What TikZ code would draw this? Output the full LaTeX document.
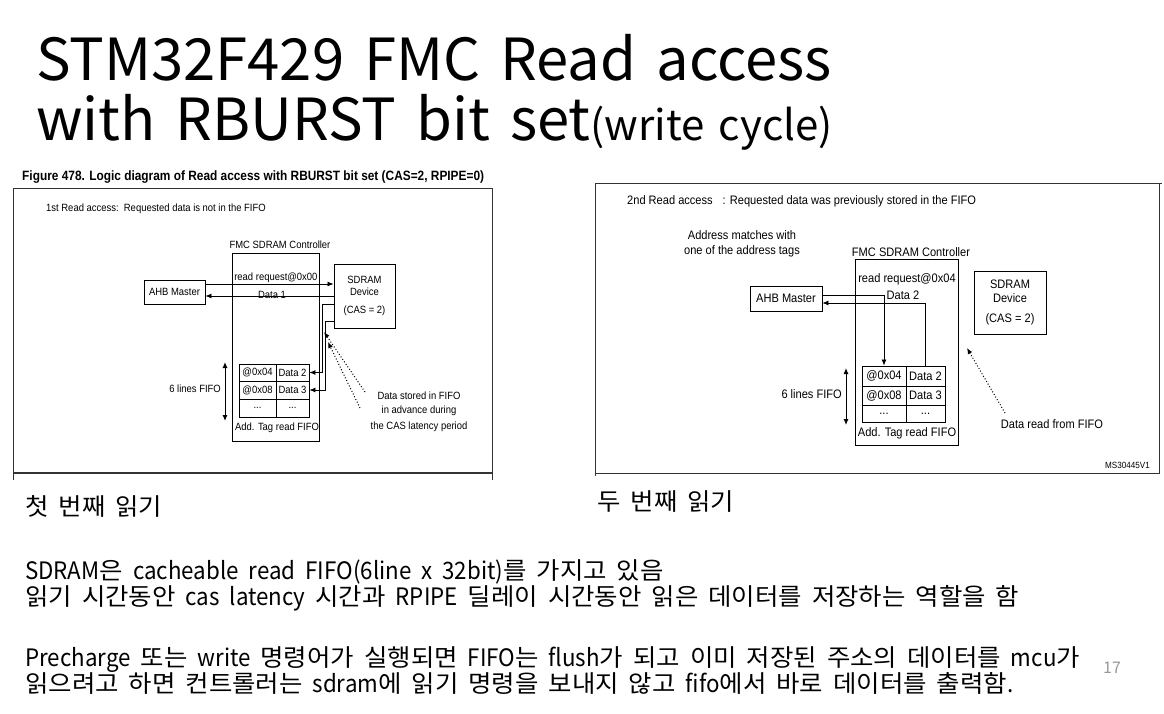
\documentclass[tikz,border=0pt]{standalone}
\usepackage{fontspec}
\setmainfont{Noto Sans CJK KR}
\newfontfamily\kofont[FakeStretch=1.06]{Noto Sans CJK KR}
\newfontfamily\lafont[FakeStretch=0.93]{Noto Sans CJK KR}
\newfontfamily\figfont[FakeStretch=0.9]{Liberation Sans}
\newfontfamily\headfont[FakeStretch=0.88]{Liberation Sans}
\newcommand\wordgap[1]{\spaceskip=#1\relax}
\usetikzlibrary{positioning, arrows.meta, calc}

\begin{document}
\begin{tikzpicture}[x=1pt, y=-1pt,
    blk/.style={draw, line width=0.9pt, inner sep=0pt, align=center},
    cell/.style={draw, line width=0.9pt, inner sep=0pt},
    txt/.style={inner sep=0pt, align=center},
    sig/.style={-{Latex[length=6pt, width=5pt]}, line width=0.8pt},
    span/.style={{Latex[length=6pt, width=5pt]}-{Latex[length=6pt, width=5pt]}, line width=1pt},
    hint/.style={-{Latex[length=6pt, width=5pt]}, dotted, line width=1pt},
    figframe/.style={line width=1pt, black!80},
    slide/.style={inner sep=0pt, anchor=base west, font=\kofont\fontsize{24}{28}\selectfont\wordgap{10pt}},
    heading/.style={inner sep=0pt, anchor=base west, font=\fontsize{58}{62}\selectfont\wordgap{20pt}},
    lfont/.style={font=\figfont\fontsize{10.5}{12}\selectfont},
    rfont/.style={font=\figfont\fontsize{12.3}{14}\selectfont}
  ]
  \useasboundingbox (0,0) rectangle (1164,713);

  % title
  \node[heading] (title1) at (36,80) {STM32F429 FMC Read access};
  \node[heading] (title2) at (36,140) {with RBURST bit set{\fontsize{42}{46}\selectfont\wordgap{14pt}(write cycle)}};

  % first read access
  \node[txt, anchor=west, font=\headfont\bfseries\fontsize{13.5}{15}\selectfont] (headA) at (22,177)
    {Figure 478. Logic diagram of Read access with RBURST bit set (CAS=2, RPIPE=0)};
  \draw[figframe] (13,480) -- (13,188) -- (492,188) -- (492,480);
  \draw[figframe, line width=1.5pt] (13,473) -- (492,473);

  \begin{scope}[lfont]
    \node[txt, anchor=west] (infoA) at (46,209) {1st Read access:\ \ Requested data is not in the FIFO};
    \node[blk, minimum width=87, minimum height=188] (ctlA) at (275.5,347) {};
    \node[txt] (ctlAlbl) at (280,245) {FMC SDRAM Controller};
    \node[blk, minimum width=61, minimum height=24] (ahbA) at (174.5,292) {AHB Master};
    \node[blk, minimum width=61, minimum height=64] (sdrA) at (364.5,296) {SDRAM\\Device\\[6pt](CAS = 2)};

    \node[cell, minimum width=37, minimum height=17] (tagA1) at (257.5,372.5) {@0x04};
    \node[cell, minimum width=33, minimum height=17] (datA1) at (292.5,372.5) {Data 2};
    \node[cell, minimum width=37, minimum height=18] (tagA2) at (257.5,390) {@0x08};
    \node[cell, minimum width=33, minimum height=18] (datA2) at (292.5,390) {Data 3};
    \node[cell, minimum width=37, minimum height=18] (tagA3) at (257.5,408) {...};
    \node[cell, minimum width=33, minimum height=18] (datA3) at (292.5,408) {...};
    \node[txt] (fifoAlbl) at (277,428) {Add. Tag read FIFO};

    \node[txt, anchor=east] (linesA) at (221,389) {6 lines FIFO};
    \coordinate (topA) at (225,362);
    \coordinate (botA) at (225,421);
    \draw[span] (topA) -- (botA);

    \draw[sig] ($(ahbA.east)+(0,-8)$) -- ($(sdrA.west)+(0,-12)$)
      node[txt, pos=0.55, above=1pt] (reqA) {read request@0x00};
    \draw[sig] (sdrA.west) -- ($(ahbA.east)+(0,4)$)
      node[txt, pos=0.48, above=-3pt] (dataA) {Data 1};
    \draw[sig] ($(sdrA.west)+(0,8)$) -- ++(-11,0) |- (datA1.east);
    \draw[sig] ($(sdrA.west)+(0,25)$) -- ++(-8,0) |- (datA2.east);

    \node[txt] (noteA) at (419,412) {Data stored in FIFO\\[2pt]in advance during\\[4pt]the CAS latency period};
    \coordinate (tipA1) at (324,332);
    \coordinate (tipA2) at (328,342);
    \coordinate (tailA1) at (365,392);
    \coordinate (tailA2) at (360,408);
    \draw[hint] (tailA1) -- (tipA1);
    \draw[hint] (tailA2) -- (tipA2);
  \end{scope}

  % second read access
  \draw[figframe] (595,476) -- (595,183) -- (1162,183);
  \draw[figframe] (1159,183) -- (1159,473) -- (595,473);

  \begin{scope}[rfont]
    \node[txt, anchor=west] (infoB) at (627,201) {2nd Read access\hspace{10pt}: Requested data was previously stored in the FIFO};
    \node[txt] (matchB) at (742,243.5) {Address matches with\\[1pt]one of the address tags};
    \node[blk, minimum width=103, minimum height=186] (ctlB) at (906.5,352) {};
    \node[txt] (ctlBlbl) at (911,252) {FMC SDRAM Controller};
    \node[blk, minimum width=72, minimum height=25] (ahbB) at (786,298.5) {AHB Master};
    \node[blk, minimum width=72, minimum height=63] (sdrB) at (1010,302.5) {SDRAM\\Device\\[6pt](CAS = 2)};
    \node[txt] (reqB) at (907,279) {read request@0x04};
    \node[txt] (dataB) at (903,295) {Data 2};

    \node[cell, minimum width=44, minimum height=20] (tagB1) at (884,376) {@0x04};
    \node[cell, minimum width=39, minimum height=20] (datB1) at (925.5,376) {Data 2};
    \node[cell, minimum width=44, minimum height=19] (tagB2) at (884,395.5) {@0x08};
    \node[cell, minimum width=39, minimum height=19] (datB2) at (925.5,395.5) {Data 3};
    \node[cell, minimum width=44, minimum height=17] (tagB3) at (884,413.5) {...};
    \node[cell, minimum width=39, minimum height=17] (datB3) at (925.5,413.5) {...};
    \node[txt] (fifoBlbl) at (907,433) {Add. Tag read FIFO};

    \node[txt, anchor=east] (linesB) at (842,394) {6 lines FIFO};
    \coordinate (topB) at (846,368);
    \coordinate (botB) at (846,425);
    \draw[span] (topB) -- (botB);

    \draw[sig] ($(ahbB.east)+(0,-3.5)$) -| (tagB1.north);
    \draw[sig] (datB1.north) |- ($(ahbB.east)+(0,4.5)$);

    \node[txt] (noteB) at (1052,424) {Data read from FIFO};
    \coordinate (tipB) at (967,348);
    \coordinate (tailB) at (1005,413);
    \draw[hint] (tailB) -- (tipB);
    \node[txt, anchor=east, font=\figfont\fontsize{9}{10}\selectfont] (codeB) at (1150,465) {MS30445V1};
  \end{scope}

  % captions and notes
  \node[slide] (capA) at (25,515) {첫 번째 읽기};
  \node[slide] (capB) at (597,510) {두 번째 읽기};
  \node[slide] (noteL1) at (25,579) {{\lafont SDRAM}은 {\lafont cacheable read FIFO(6line x 32bit)}를 가지고 있음};
  \node[slide] (noteL2) at (25,605) {읽기 시간동안 {\lafont cas latency} 시간과 {\lafont RPIPE} 딜레이 시간동안 읽은 데이터를 저장하는 역할을 함};
  \node[slide] (noteL3) at (25,666) {{\lafont Precharge} 또는 {\lafont write} 명령어가 실행되면 {\lafont FIFO}는 {\lafont flush}가 되고 이미 저장된 주소의 데이터를 {\lafont mcu}가};
  \node[slide] (noteL4) at (25,692) {읽으려고 하면 컨트롤러는 {\lafont sdram}에 읽기 명령을 보내지 않고 {\lafont fifo}에서 바로 데이터를 출력함{\lafont .}};
  \node[txt, text=black!40, font=\fontsize{16}{18}\selectfont] (pageno) at (1112,668) {17};
\end{tikzpicture}
\end{document}
